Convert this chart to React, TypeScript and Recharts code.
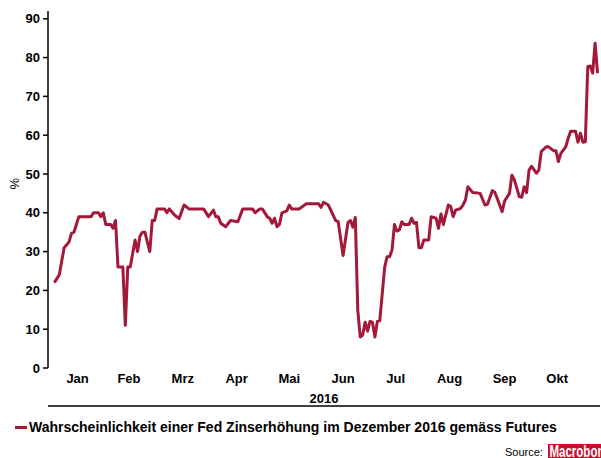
import React from 'react';
import { LineChart, Line, XAxis, YAxis } from 'recharts';

// trading day of 2016 (0 = 1 Jan) and probability in %
const tradingDay = [
  1, 3, 5, 7, 8, 9, 10, 11, 16, 17, 19, 20, 21, 22, 24, 25, 26, 27, 29, 30,
  31, 32, 34, 35, 36, 37, 38, 40, 41, 42, 43, 46, 47, 48, 50, 52, 54, 56, 60, 62,
  64, 66, 67, 68, 69, 71, 73, 76, 78, 82, 83, 85, 86, 88, 89, 90, 91, 92, 93, 94,
  96, 97, 98, 101, 104, 109, 110, 111, 113, 116, 117, 119, 121, 122, 123, 124, 125, 126, 127, 128,
  129, 130, 131, 132, 133, 134, 136, 137, 138, 139, 140, 141, 142, 143, 144, 146, 147, 148, 149, 150,
  151, 152, 154, 155, 157, 158, 159, 160, 162, 163, 164, 165, 167, 168, 169, 170, 172, 175, 177, 178,
  180, 181, 182, 184, 185, 187, 188, 189, 191, 192, 193, 194, 195, 196, 198, 199, 200, 202, 203, 205,
  206, 207, 208, 210, 211, 212, 214, 215, 216, 217, 218, 219, 220, 221, 222, 223,
];
const probability = [
  22, 24, 31, 32.5, 34.7, 35, 37, 39, 39, 40, 40, 39, 40, 37, 37, 36, 38, 26, 26, 11,
  26, 26, 33, 30, 34, 35, 35, 30, 38, 38, 41, 41, 40, 41, 39.5, 38.5, 42, 41, 41, 41,
  39, 40.7, 39, 39, 37.3, 36.4, 38, 37.7, 41, 41, 40, 41, 41, 39, 38.6, 37.3, 38.6, 36.4, 37, 40,
  40.5, 42, 41, 41, 42.3, 42.3, 41.4, 42.7, 42, 38, 37.7, 29, 37.5, 38, 36.3, 38.8, 15, 8, 8.5, 11.8,
  9.5, 12, 11.8, 8, 12, 12.2, 26, 28.7, 28.7, 30.4, 37, 35.3, 35.6, 37.7, 37, 37, 38.6, 37.3, 37.5, 31,
  31, 33, 33, 39, 38.6, 36, 39.7, 37, 42, 41.6, 39, 40.7, 41.1, 42, 43.3, 46.7, 45.2, 45, 42, 42.2,
  45.7, 45.3, 43.7, 40.3, 43, 45, 49.7, 48.5, 44.2, 44, 46.7, 45.2, 51, 52, 50.2, 51, 55.8, 57, 57, 56,
  56, 53.2, 55.3, 57, 59.2, 61, 61, 58.2, 60.5, 58.2, 58.3, 77.7, 77.8, 76, 83.7, 76,
];

const monthStarts = [0, 21, 42, 65, 86, 108, 130, 151, 174, 196, 217];
const monthMids = [10.5, 31.5, 53.5, 75.5, 97, 119, 140.5, 162.5, 185, 206.5];
const monthNames = ['Jan', 'Feb', 'Mrz', 'Apr', 'Mai', 'Jun', 'Jul', 'Aug', 'Sep', 'Okt'];
const yTicks = [0, 10, 20, 30, 40, 50, 60, 70, 80, 90];

const data = tradingDay.map((d, i) => ({ d, p: probability[i] }));

const FONT = '"Liberation Sans", Arial, sans-serif';
const LINE = '#A3193A';
const tickStyle = { fontFamily: FONT, fontSize: 13, fontWeight: 'bold', fill: '#000' };
const X_DOMAIN: [number, number] = [-1.6, 224];

export default function App() {
  return (
    <div style={{ position: 'absolute', left: 0, top: 0, width: 601, height: 458, background: '#fff', fontFamily: FONT }}>
      <LineChart width={601} height={458} data={data} margin={{ top: 11, right: 1, bottom: 48, left: 8 }}>
        <XAxis
          xAxisId="m"
          dataKey="d"
          type="number"
          domain={X_DOMAIN}
          ticks={monthStarts}
          tick={false}
          tickSize={4}
          height={4}
          stroke="#000"
          strokeWidth={1.5}
          interval={0}
          allowDataOverflow
        />
        <XAxis
          xAxisId="l"
          dataKey="d"
          type="number"
          domain={X_DOMAIN}
          ticks={monthMids}
          tickFormatter={(v: number) => monthNames[monthMids.indexOf(v)]}
          axisLine={false}
          tickLine={false}
          tickSize={0}
          tickMargin={6}
          height={38}
          tick={tickStyle}
          interval={0}
          label={{ value: '2016', position: 'insideBottom', offset: 3, style: tickStyle }}
          allowDataOverflow
        />
        <YAxis
          type="number"
          domain={[0, 92]}
          ticks={yTicks}
          width={40}
          tickSize={5}
          tickMargin={3}
          tick={tickStyle}
          stroke="#000"
          strokeWidth={1.5}
          interval={0}
          label={{ value: '%', angle: -90, position: 'insideLeft', offset: 6, style: { fontFamily: FONT, fontSize: 13, fill: '#000' } }}
        />
        {/* invisible copy bound to the label axis so it shares the same scale */}
        <Line
          xAxisId="l"
          dataKey="p"
          stroke="none"
          dot={false}
          activeDot={false}
          legendType="none"
          isAnimationActive={false}
        />
        <Line
          xAxisId="m"
          dataKey="p"
          type="linear"
          stroke={LINE}
          strokeWidth={3}
          strokeLinejoin="round"
          dot={false}
          isAnimationActive={false}
        />
      </LineChart>
      <div style={{ position: 'absolute', left: 15, top: 419, display: 'flex', alignItems: 'center', fontSize: 14, fontWeight: 'bold', color: '#000' }}>
        <span style={{ display: 'inline-block', width: 12, height: 3, background: LINE, marginRight: 2 }} />
        <span>Wahrscheinlichkeit einer Fed Zinserhöhung im Dezember 2016 gemäss Futures</span>
      </div>
      <div style={{ position: 'absolute', left: 505, top: 446, fontSize: 11, color: '#000' }}>Source:</div>
      <div style={{ position: 'absolute', left: 548, top: 444, width: 53, height: 14, overflow: 'hidden', background: '#C8102E' }}>
        <div style={{ color: '#fff', fontWeight: 'bold', fontSize: 16, lineHeight: '16px', paddingLeft: 2, whiteSpace: 'nowrap', transform: 'scaleX(0.72)', transformOrigin: 'left top' }}>Macrobond</div>
      </div>
    </div>
  );
}
